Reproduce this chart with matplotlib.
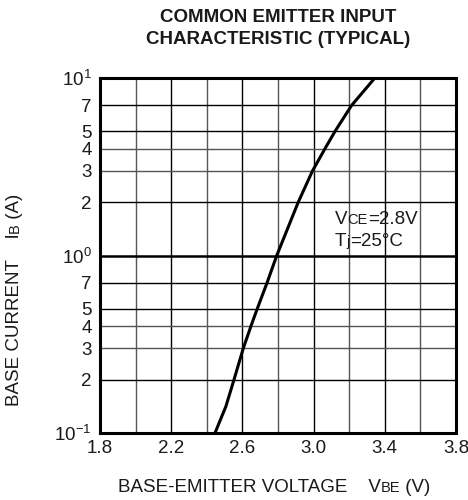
import numpy as np
import matplotlib
matplotlib.use("Agg")
import matplotlib.pyplot as plt

plt.rcParams['font.family'] = ['Liberation Sans', 'DejaVu Sans']
plt.rcParams['mathtext.fontset'] = 'custom'
plt.rcParams['mathtext.rm'] = 'Liberation Sans'
plt.rcParams['mathtext.default'] = 'regular'

# curve
vbe = [2.446, 2.507, 2.553, 2.605, 2.648, 2.683, 2.738, 2.793, 2.914, 2.994, 3.064, 3.120, 3.213, 3.344]
ib = [0.1, 0.141, 0.2, 0.3, 0.4, 0.5, 0.7, 1.0, 2, 3, 4, 5, 7, 10]

x_grid = [2.0, 2.2, 2.4, 2.6, 2.8, 3.0, 3.2, 3.4, 3.6]
x_ticks = [1.8, 2.2, 2.6, 3.0, 3.4, 3.8]
x_labels = ["1.8", "2.2", "2.6", "3.0", "3.4", "3.8"]
y_grid = [0.2, 0.3, 0.4, 0.5, 0.7, 1.0, 2, 3, 4, 5, 7]
y_ticks = [0.1, 0.2, 0.3, 0.4, 0.5, 0.7, 1, 2, 3, 4, 5, 7, 10]
y_labels = [r"$10^{-1}$", "2", "3", "4", "5", "7", r"$10^{0}$", "2", "3", "4", "5", "7", r"$10^{1}$"]

txt = "#1a1a1a"
fs = 13.5

fig = plt.figure(figsize=(4.68, 5.0), dpi=100)
ax = fig.add_axes([100/468, 67/500, 356/468, 355/500])

for x in x_grid:
    col = "black" if round(x, 1) in (2.2, 2.6, 3.0, 3.4) else "#555555"
    ax.axvline(x, color=col, lw=1.0, zorder=1)
for y in y_grid:
    if y == 1.0:
        ax.axhline(y, color="black", lw=1.8, zorder=1)
    else:
        col = "#555555" if y in (3, 4, 0.3, 0.4) else "black"
        ax.axhline(y, color=col, lw=1.0, zorder=1)

ax.plot(vbe, ib, color="black", lw=2.2, zorder=3, solid_capstyle="butt",
        solid_joinstyle="round")

ax.set_yscale("log")
ax.set_xlim(1.8, 3.8)
ax.set_ylim(0.1, 10)
ax.set_xticks(x_ticks)
ax.set_xticklabels(x_labels, fontsize=fs, color=txt)
ax.set_yticks(y_ticks)
ax.set_yticklabels(y_labels, fontsize=fs, color=txt)
ax.minorticks_off()
ax.tick_params(axis="x", length=0, pad=5)
ax.tick_params(axis="y", length=0, pad=6)
for s in ax.spines.values():
    s.set_linewidth(2.2)

fig.text(278/468, 1 - 18/500, "COMMON EMITTER INPUT", ha="center", va="center",
         fontsize=13.5, fontweight="bold", color=txt)
fig.text(278/468, 1 - 40/500, "CHARACTERISTIC (TYPICAL)", ha="center", va="center",
         fontsize=13.5, fontweight="bold", color=txt)

renderer = fig.canvas.get_renderer()


def pieces(x, y, parts, rotation=0):
    # parts: list of (text, size); drawn one after another in pixels
    for s, size in parts:
        t = fig.text(x / 468, 1 - y / 500, s, fontsize=size, color=txt,
                     ha="left", va="baseline", rotation=rotation,
                     rotation_mode="anchor")
        bb = t.get_window_extent(renderer)
        if rotation == 0:
            x += bb.width
        else:
            y -= bb.height


pieces(335, 224, [("V", fs), ("CE", 10.5), ("=2.8V", fs)])
pieces(335, 246, [("T", fs), ("j", 10.5), ("=25°C", fs)])
pieces(118, 492, [("BASE-EMITTER VOLTAGE    V", fs), ("BE", 10.5), (" (V)", fs)])
pieces(19, 406, [("BASE CURRENT    I", fs), ("B", 10.5), (" (A)", fs)], rotation=90)

fig.savefig("out.png", dpi=100)
